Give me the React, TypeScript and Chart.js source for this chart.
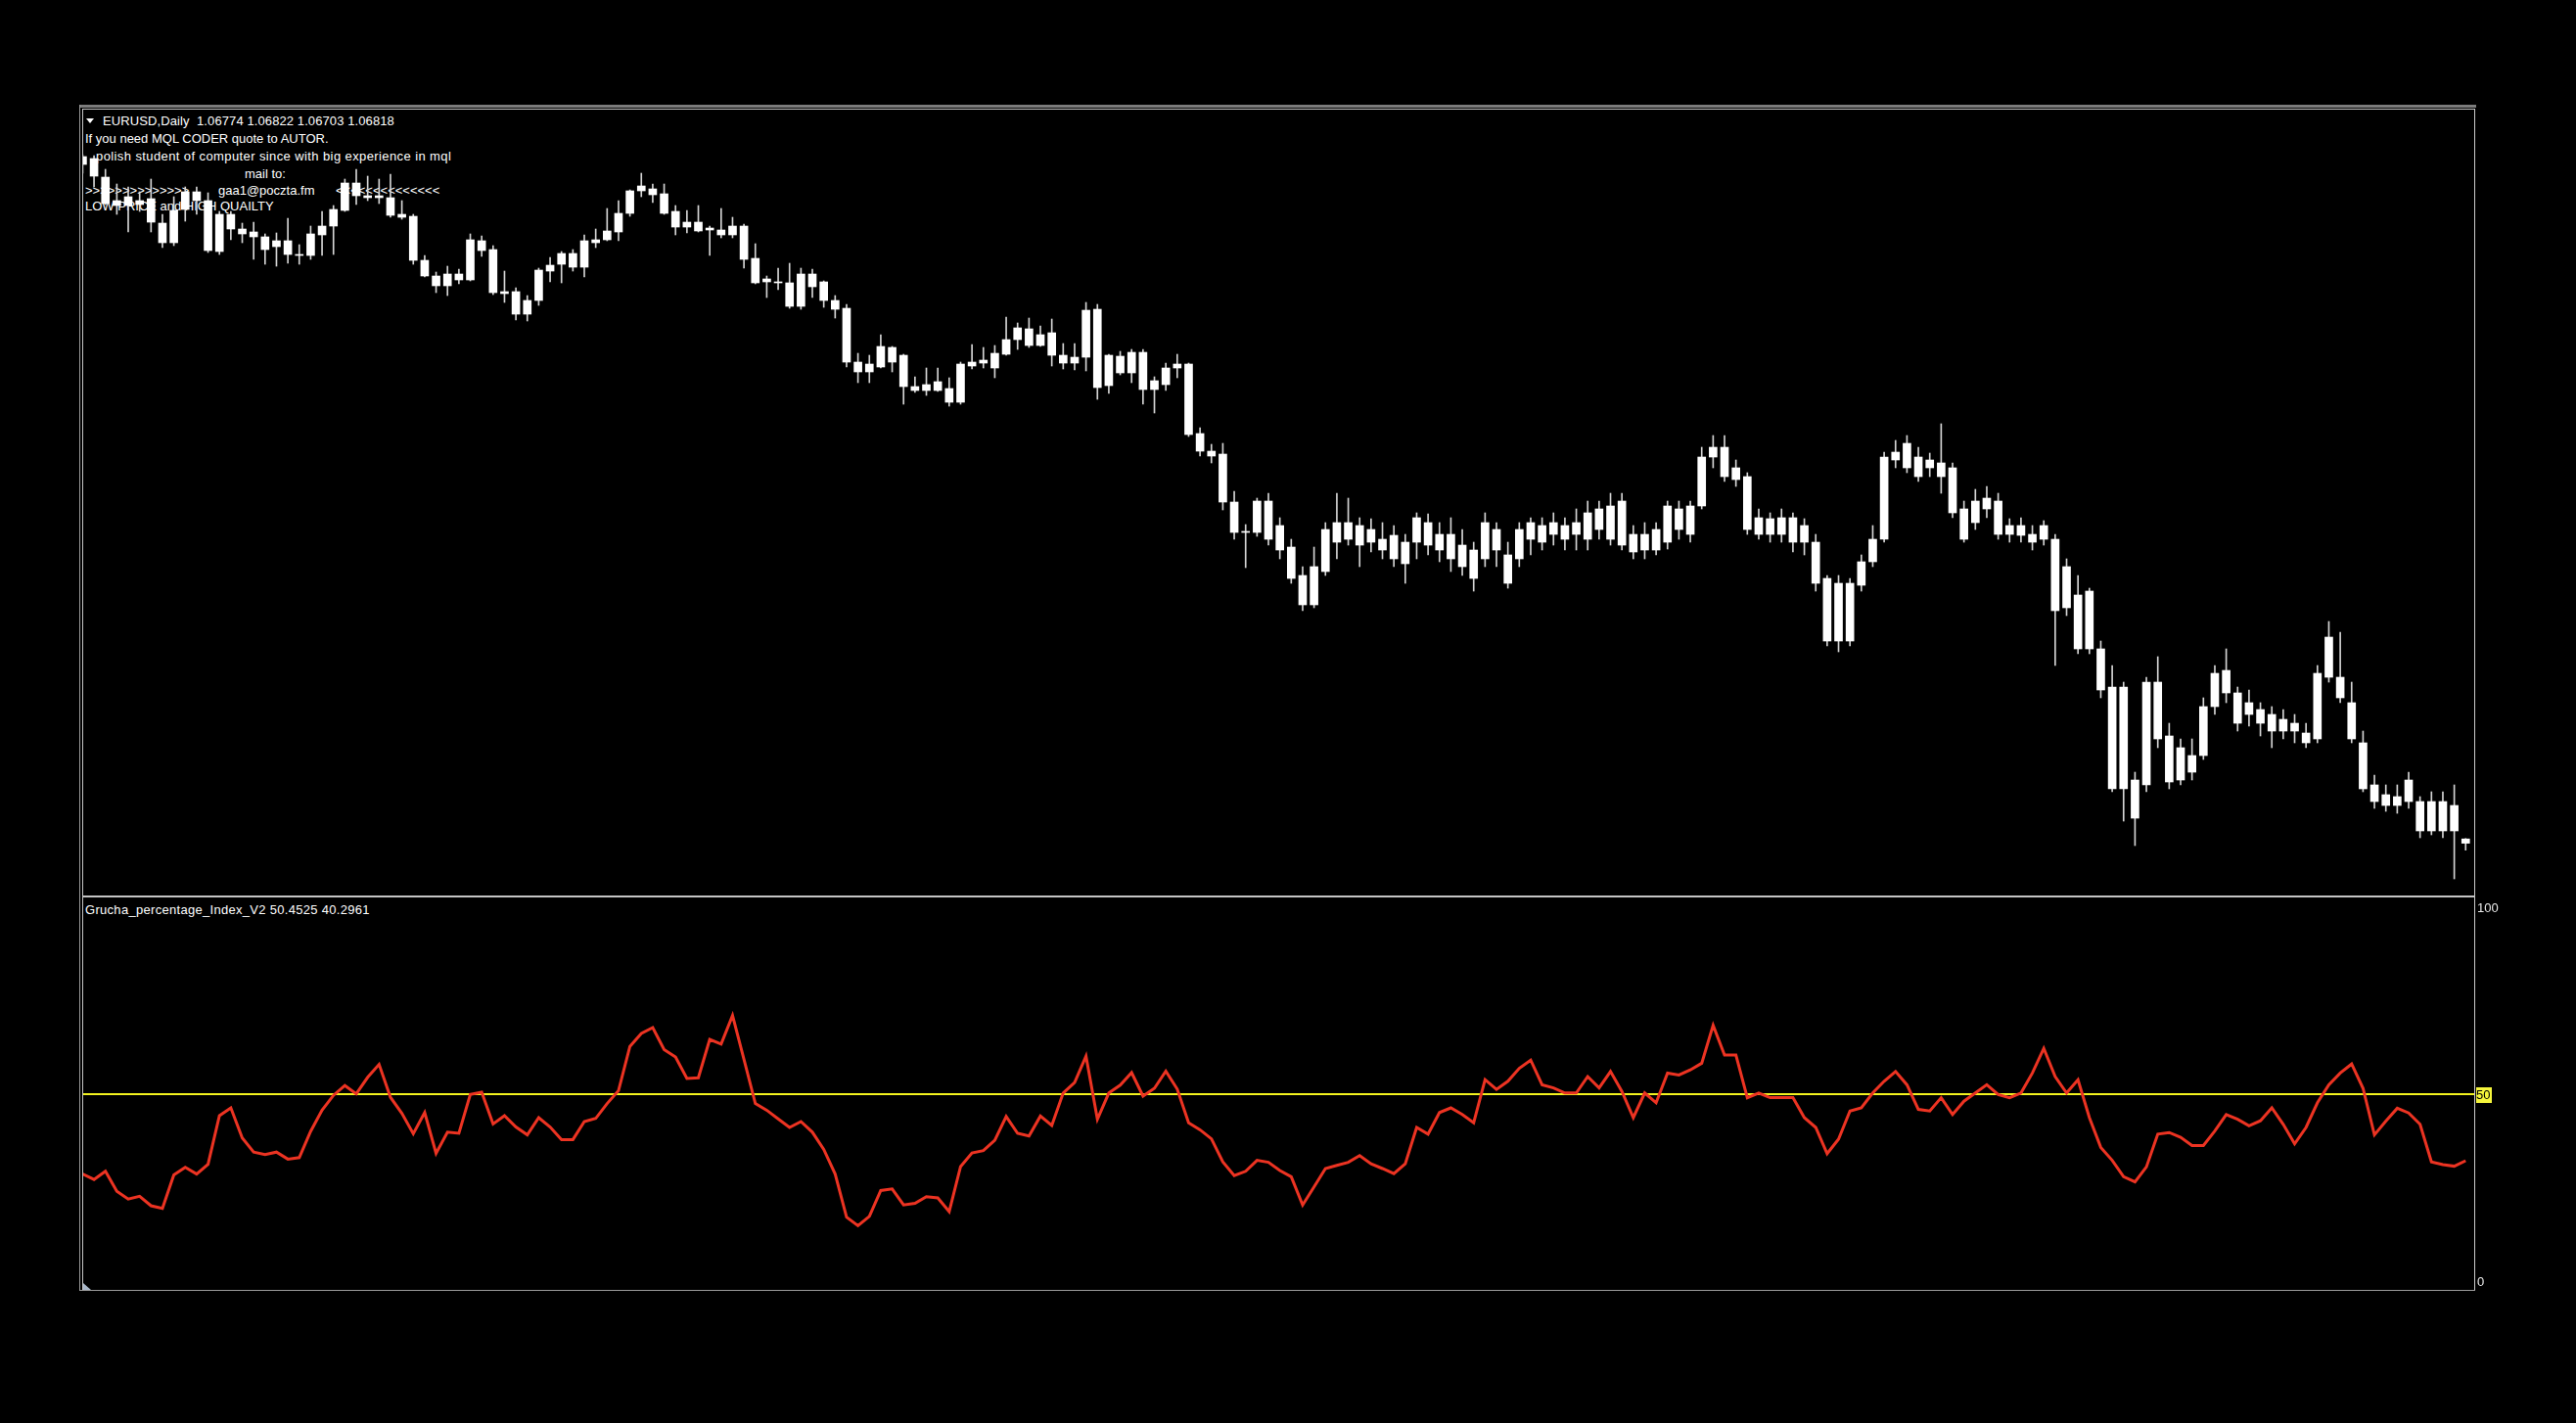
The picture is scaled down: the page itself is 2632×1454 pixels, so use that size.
import React, { useEffect, useRef } from 'react';
import { Chart, registerables } from 'chart.js';

Chart.register(...registerables);

// ---- EURUSD, Daily candles (oldest -> newest) ----
const OPEN = [
  1.1379, 1.1377, 1.1358, 1.1334, 1.1329, 1.1334, 1.1336, 1.1311, 1.1291, 1.1325,
  1.1334, 1.1334, 1.1320, 1.1305, 1.1305, 1.1302, 1.1297, 1.1287, 1.1293, 1.1279,
  1.1278, 1.1299, 1.1308, 1.1324, 1.1339, 1.1339, 1.1337, 1.1337, 1.1320, 1.1318,
  1.1273, 1.1257, 1.1247, 1.1253, 1.1253, 1.1293, 1.1284, 1.1241, 1.1241, 1.1218,
  1.1232, 1.1262, 1.1269, 1.1280, 1.1266, 1.1291, 1.1294, 1.1302, 1.1321, 1.1344,
  1.1346, 1.1341, 1.1323, 1.1312, 1.1312, 1.1304, 1.1304, 1.1299, 1.1308, 1.1275,
  1.1254, 1.1251, 1.1250, 1.1226, 1.1259, 1.1251, 1.1232, 1.1224, 1.1169, 1.1159,
  1.1164, 1.1184, 1.1176, 1.1144, 1.1140, 1.1140, 1.1142, 1.1128, 1.1165, 1.1168,
  1.1178, 1.1177, 1.1192, 1.1203, 1.1186, 1.1199, 1.1176, 1.1168, 1.1174, 1.1223,
  1.1145, 1.1175, 1.1158, 1.1179, 1.1150, 1.1146, 1.1163, 1.1167, 1.1096, 1.1078,
  1.1075, 1.1026, 1.0996, 1.0995, 1.1027, 1.1002, 1.0980, 1.0951, 1.0921, 1.0955,
  1.0985, 1.1005, 1.0982, 1.0998, 1.0988, 1.0992, 1.0963, 1.0985, 1.1005, 1.0993,
  1.0993, 1.0982, 1.0977, 1.0968, 1.0998, 1.0972, 1.0968, 1.0988, 1.1002, 1.0993,
  1.1002, 1.0993, 1.0988, 1.0998, 1.1022, 1.0982, 1.0993, 1.0977, 1.0998, 1.0985,
  1.1019, 1.0993, 1.1022, 1.1072, 1.1082, 1.1061, 1.1052, 1.1010, 1.0993, 1.1010,
  1.1010, 1.0985, 1.0985, 1.0948, 1.0884, 1.0943, 1.0941, 1.0965, 1.0988, 1.1069,
  1.1086, 1.1052, 1.1069, 1.1066, 1.1061, 1.1019, 1.1005, 1.1019, 1.1027, 1.0993,
  1.1002, 1.0993, 1.0988, 1.0988, 1.0918, 1.0931, 1.0876, 1.0876, 1.0837, 1.0733,
  1.0742, 1.0737, 1.0842, 1.0787, 1.0742, 1.0767, 1.0767, 1.0817, 1.0854, 1.0831,
  1.0809, 1.0814, 1.0809, 1.0792, 1.0800, 1.0790, 1.0784, 1.0847, 1.0847, 1.0821,
  1.0780, 1.0737, 1.0727, 1.0716, 1.0720, 1.0720, 1.0690, 1.0720, 1.0716, 1.06774,
];
const HIGH = [
  1.1381, 1.1380, 1.1366, 1.1351, 1.1348, 1.1343, 1.1356, 1.1320, 1.1338, 1.1348,
  1.1348, 1.1342, 1.1323, 1.1323, 1.1311, 1.1312, 1.1300, 1.1301, 1.1316, 1.1289,
  1.1308, 1.1323, 1.1329, 1.1356, 1.1366, 1.1359, 1.1356, 1.1361, 1.1334, 1.1320,
  1.1278, 1.1261, 1.1267, 1.1264, 1.1300, 1.1298, 1.1288, 1.1262, 1.1245, 1.1237,
  1.1265, 1.1276, 1.1282, 1.1284, 1.1299, 1.1305, 1.1326, 1.1334, 1.1345, 1.1362,
  1.1351, 1.1351, 1.1329, 1.1324, 1.1329, 1.1308, 1.1326, 1.1317, 1.1310, 1.1290,
  1.1257, 1.1265, 1.1270, 1.1265, 1.1264, 1.1252, 1.1237, 1.1228, 1.1178, 1.1176,
  1.1197, 1.1185, 1.1177, 1.1154, 1.1163, 1.1163, 1.1153, 1.1169, 1.1187, 1.1184,
  1.1186, 1.1215, 1.1209, 1.1214, 1.1206, 1.1213, 1.1188, 1.1188, 1.1230, 1.1228,
  1.1177, 1.1180, 1.1182, 1.1182, 1.1154, 1.1168, 1.1177, 1.1168, 1.1102, 1.1085,
  1.1086, 1.1037, 1.1003, 1.1030, 1.1035, 1.1010, 1.0988, 1.0960, 1.0980, 1.1005,
  1.1035, 1.1030, 1.1010, 1.1009, 1.1005, 1.1002, 1.0993, 1.1015, 1.1014, 1.1005,
  1.1010, 1.0998, 1.0985, 1.1015, 1.1005, 1.0985, 1.1005, 1.1010, 1.1010, 1.1015,
  1.1010, 1.1019, 1.1027, 1.1027, 1.1035, 1.1035, 1.1002, 1.1005, 1.1005, 1.1027,
  1.1027, 1.1027, 1.1082, 1.1094, 1.1094, 1.1069, 1.1056, 1.1019, 1.1015, 1.1019,
  1.1015, 1.1009, 1.0993, 1.0951, 1.0951, 1.0948, 1.0972, 1.1002, 1.1077, 1.1089,
  1.1094, 1.1082, 1.1076, 1.1106, 1.1066, 1.1027, 1.1039, 1.1042, 1.1035, 1.1009,
  1.1010, 1.1002, 1.1007, 1.0993, 1.0968, 1.0951, 1.0938, 1.0884, 1.0859, 1.0842,
  1.0750, 1.0847, 1.0868, 1.0800, 1.0784, 1.0784, 1.0826, 1.0859, 1.0876, 1.0837,
  1.0834, 1.0821, 1.0817, 1.0814, 1.0809, 1.0800, 1.0859, 1.0904, 1.0893, 1.0842,
  1.0792, 1.0747, 1.0737, 1.0737, 1.0750, 1.0725, 1.0730, 1.0730, 1.0737, 1.06822,
];
const LOW = [
  1.1362, 1.1348, 1.1330, 1.1320, 1.1302, 1.1323, 1.1302, 1.1286, 1.1288, 1.1313,
  1.1320, 1.1281, 1.1279, 1.1294, 1.1291, 1.1274, 1.1269, 1.1267, 1.1270, 1.1269,
  1.1274, 1.1278, 1.1279, 1.1323, 1.1330, 1.1334, 1.1331, 1.1317, 1.1315, 1.1269,
  1.1256, 1.1240, 1.1237, 1.1249, 1.1252, 1.1277, 1.1238, 1.1230, 1.1212, 1.1211,
  1.1227, 1.1251, 1.1250, 1.1262, 1.1256, 1.1286, 1.1293, 1.1293, 1.1318, 1.1338,
  1.1332, 1.1320, 1.1299, 1.1301, 1.1302, 1.1278, 1.1296, 1.1296, 1.1265, 1.1249,
  1.1235, 1.1243, 1.1224, 1.1223, 1.1235, 1.1225, 1.1214, 1.1164, 1.1148, 1.1148,
  1.1163, 1.1159, 1.1126, 1.1138, 1.1135, 1.1139, 1.1124, 1.1126, 1.1162, 1.1163,
  1.1153, 1.1176, 1.1182, 1.1184, 1.1185, 1.1165, 1.1162, 1.1161, 1.1160, 1.1131,
  1.1137, 1.1156, 1.1148, 1.1126, 1.1117, 1.1140, 1.1153, 1.1093, 1.1073, 1.1066,
  1.1018, 1.0988, 1.0959, 1.0991, 1.0982, 1.0968, 1.0943, 1.0915, 1.0918, 1.0951,
  1.0968, 1.0982, 1.0960, 1.0975, 1.0968, 1.0960, 1.0943, 1.0968, 1.0972, 1.0965,
  1.0955, 1.0951, 1.0935, 1.0960, 1.0960, 1.0938, 1.0960, 1.0972, 1.0977, 1.0982,
  1.0977, 1.0977, 1.0977, 1.0988, 1.0982, 1.0977, 1.0968, 1.0968, 1.0972, 1.0978,
  1.0988, 1.0985, 1.1019, 1.1061, 1.1047, 1.1042, 1.0993, 1.0988, 1.0985, 1.0985,
  1.0975, 1.0972, 1.0935, 1.0879, 1.0873, 1.0879, 1.0935, 1.0960, 1.0985, 1.1061,
  1.1056, 1.1047, 1.1052, 1.1035, 1.1010, 1.0985, 1.0998, 1.1010, 1.0988, 1.0985,
  1.0985, 1.0977, 1.0982, 1.0859, 1.0910, 1.0871, 1.0871, 1.0826, 1.0730, 1.0700,
  1.0675, 1.0730, 1.0775, 1.0733, 1.0737, 1.0742, 1.0763, 1.0809, 1.0821, 1.0792,
  1.0797, 1.0787, 1.0775, 1.0784, 1.0780, 1.0775, 1.0780, 1.0842, 1.0821, 1.0780,
  1.0730, 1.0713, 1.0710, 1.0708, 1.0713, 1.0683, 1.0686, 1.0683, 1.0641, 1.06703,
];
const CLOSE = [
  1.1371, 1.1359, 1.1331, 1.1329, 1.1338, 1.1330, 1.1312, 1.1291, 1.1324, 1.1343,
  1.1343, 1.1283, 1.1282, 1.1320, 1.1300, 1.1297, 1.1284, 1.1293, 1.1279, 1.1278,
  1.1300, 1.1308, 1.1325, 1.1352, 1.1352, 1.1337, 1.1339, 1.1319, 1.1317, 1.1273,
  1.1257, 1.1247, 1.1259, 1.1259, 1.1294, 1.1283, 1.1240, 1.1239, 1.1218, 1.1232,
  1.1263, 1.1268, 1.1280, 1.1266, 1.1293, 1.1294, 1.1303, 1.1321, 1.1344, 1.1349,
  1.1340, 1.1321, 1.1307, 1.1307, 1.1303, 1.1306, 1.1299, 1.1308, 1.1274, 1.1250,
  1.1251, 1.1250, 1.1226, 1.1259, 1.1246, 1.1232, 1.1223, 1.1169, 1.1159, 1.1167,
  1.1185, 1.1169, 1.1144, 1.1140, 1.1146, 1.1149, 1.1128, 1.1167, 1.1169, 1.1171,
  1.1163, 1.1192, 1.1204, 1.1186, 1.1197, 1.1176, 1.1168, 1.1174, 1.1222, 1.1143,
  1.1176, 1.1158, 1.1179, 1.1141, 1.1141, 1.1163, 1.1167, 1.1095, 1.1078, 1.1073,
  1.1026, 1.0995, 1.0995, 1.1027, 1.0988, 1.0977, 1.0948, 1.0921, 1.0960, 1.0998,
  1.1005, 1.0988, 1.1002, 1.0985, 1.0977, 1.0968, 1.0985, 1.1010, 1.0982, 1.0977,
  1.0968, 1.0960, 1.0948, 1.1005, 1.0977, 1.0943, 1.0998, 1.1005, 1.0985, 1.1005,
  1.0988, 1.1005, 1.1015, 1.1019, 1.0988, 1.1027, 1.0975, 1.0993, 1.0977, 1.1022,
  1.0998, 1.1022, 1.1072, 1.1082, 1.1052, 1.1049, 1.0998, 1.0993, 1.1009, 1.0993,
  1.0985, 1.1002, 1.0943, 1.0884, 1.0943, 1.0884, 1.0965, 1.0988, 1.1072, 1.1077,
  1.1061, 1.1072, 1.1061, 1.1052, 1.1015, 1.0988, 1.1027, 1.1030, 1.0993, 1.1002,
  1.0992, 1.0985, 1.1002, 1.0915, 1.0960, 1.0876, 1.0935, 1.0834, 1.0733, 1.0837,
  1.0703, 1.0842, 1.0784, 1.0740, 1.0775, 1.0750, 1.0817, 1.0851, 1.0831, 1.0800,
  1.0821, 1.0800, 1.0792, 1.0804, 1.0792, 1.0780, 1.0851, 1.0888, 1.0826, 1.0784,
  1.0733, 1.0720, 1.0716, 1.0725, 1.0742, 1.0690, 1.0720, 1.0690, 1.0690, 1.06818,
];

// ---- Grucha_percentage_Index_V2 (0..100) ----
const GRUCHA = [
  29.6, 28.2, 30.3, 25.2, 23.2, 23.9, 21.5, 20.8, 29.4, 31.3,
  29.6, 32.1, 44.5, 46.5, 38.8, 35.2, 34.6, 35.2, 33.4, 33.8,
  40.5, 45.9, 49.7, 52.2, 50.1, 54.3, 57.6, 49.2, 45.1, 39.9,
  45.3, 34.9, 40.3, 40.0, 49.9, 50.5, 42.4, 44.5, 41.6, 39.6,
  44.0, 41.6, 38.4, 38.4, 43.0, 43.8, 47.6, 50.9, 62.2, 65.5,
  67.0, 61.4, 59.5, 54.0, 54.2, 64.0, 62.8, 70.1, 58.9, 47.6,
  45.9, 43.7, 41.5, 43.0, 40.3, 35.9, 29.6, 18.6, 16.4, 18.8,
  25.4, 25.8, 21.7, 22.1, 23.8, 23.5, 20.0, 31.5, 35.0, 35.6,
  38.2, 44.3, 40.0, 39.3, 44.4, 42.0, 50.3, 53.0, 59.7, 43.6,
  50.3, 52.3, 55.5, 49.5, 51.5, 55.9, 51.3, 42.7, 40.9, 38.6,
  32.7, 29.2, 30.3, 33.1, 32.6, 30.5, 28.9, 21.7, 26.3, 31.0,
  31.8, 32.6, 34.3, 32.2, 31.0, 29.7, 32.2, 41.5, 39.8, 45.3,
  46.5, 44.8, 42.7, 53.7, 51.2, 53.3, 56.6, 58.7, 52.4, 51.6,
  50.3, 50.3, 54.5, 51.6, 55.8, 50.7, 44.0, 50.3, 47.8, 55.4,
  54.9, 56.2, 57.9, 67.6, 60.0, 60.0, 49.1, 50.3, 49.1, 49.1,
  49.1, 44.0, 41.5, 34.8, 38.5, 45.7, 46.5, 50.3, 53.3, 55.8,
  52.4, 46.1, 45.7, 49.1, 44.8, 48.2, 50.3, 52.4, 49.9, 49.1,
  50.3, 55.4, 61.7, 54.5, 50.3, 53.7, 44.0, 36.4, 33.1, 28.9,
  27.6, 31.4, 39.8, 40.2, 39.0, 36.9, 36.9, 40.6, 44.8, 43.6,
  41.9, 43.2, 46.5, 42.3, 37.3, 41.5, 47.8, 52.4, 55.4, 57.7,
  51.5, 39.6, 43.1, 46.4, 45.2, 42.3, 32.7, 32.0, 31.6, 33.0,
];

const LEVELS = [50];
const AXIS_TOP_LABEL = 100;
const AXIS_BOTTOM_LABEL = 0;

const HEADER = 'EURUSD,Daily  1.06774 1.06822 1.06703 1.06818';
const COMMENT_LINES = [
  'If you need MQL CODER quote to AUTOR.',
  'polish student of computer since with big experience in mql',
  'mail to:',
  '>>>>>>>>>>>>>>',
  'gaa1@poczta.fm',
  '<<<<<<<<<<<<<<',
  'LOW PRICE and HIGH QUAILTY',
];
const INDICATOR_TITLE = 'Grucha_percentage_Index_V2 50.4525 40.2961';

// layout (pixels)
const PLOT_LEFT = 85;
const PLOT_RIGHT = 2528;
const MAIN_TOP = 112;
const MAIN_BOTTOM = 915;
const SUB_TOP = 917;
const SUB_BOTTOM = 1318;
const X_MIN = 0.05;
const X_MAX = 209.75;
const PRICE_MIN = 1.0624;
const PRICE_MAX = 1.1427;

const FONT = '13px "Liberation Sans", Arial, sans-serif';

const indicatorDecor = {
  id: 'indicatorDecor',
  beforeDatasetsDraw(chart: any) {
    const { ctx, chartArea } = chart;
    const ys = chart.scales.y;
    ctx.save();
    ctx.strokeStyle = '#f2f21e';
    ctx.lineWidth = 2;
    LEVELS.forEach((v) => {
      const y = ys.getPixelForValue(v);
      ctx.beginPath();
      ctx.moveTo(chartArea.left, y);
      ctx.lineTo(chartArea.right, y);
      ctx.stroke();
    });
    ctx.restore();
  },
  afterDraw(chart: any) {
    const { ctx, chartArea } = chart;
    const ys = chart.scales.y;
    const x = chartArea.right + 3;
    ctx.save();
    ctx.font = FONT;
    ctx.textAlign = 'left';
    ctx.fillStyle = '#e8e8e8';
    ctx.textBaseline = 'top';
    ctx.fillText(String(AXIS_TOP_LABEL), x, ys.getPixelForValue(AXIS_TOP_LABEL) + 4);
    ctx.textBaseline = 'bottom';
    ctx.fillText(String(AXIS_BOTTOM_LABEL), x, ys.getPixelForValue(AXIS_BOTTOM_LABEL) - 1);
    LEVELS.forEach((v) => {
      const y = ys.getPixelForValue(v);
      ctx.fillStyle = '#f5f53c';
      ctx.fillRect(chartArea.right + 2, y - 7, 16, 16);
      ctx.fillStyle = '#000000';
      ctx.textBaseline = 'middle';
      ctx.fillText(String(v), x - 1, y + 1.5);
    });
    ctx.restore();
  },
};

function Line(p: { l: number; t: number; w: number; h: number; c: string }) {
  return (
    <div
      style={{
        position: 'absolute',
        left: p.l,
        top: p.t,
        width: p.w,
        height: p.h,
        background: p.c,
        zIndex: 3,
      }}
    />
  );
}

function Txt(p: { l: number; t: number; s: string; ls?: number }) {
  return (
    <div
      style={{
        position: 'absolute',
        left: p.l,
        top: p.t,
        font: FONT,
        lineHeight: '16px',
        letterSpacing: (p.ls || 0) + 'px',
        color: '#ffffff',
        whiteSpace: 'pre',
        zIndex: 1,
      }}
    >
      {p.s}
    </div>
  );
}

export default function App() {
  const mainRef = useRef<HTMLCanvasElement>(null);
  const subRef = useRef<HTMLCanvasElement>(null);

  useEffect(() => {
    document.body.style.margin = '0';
    document.body.style.background = '#000';

    const wicks = HIGH.map((h, i) => ({ x: i, y: [LOW[i], h] }));
    const bodies = OPEN.map((o, i) => ({
      x: i,
      y: [Math.min(o, CLOSE[i]), Math.max(o, CLOSE[i])],
    }));

    const main = new Chart(mainRef.current as HTMLCanvasElement, {
      type: 'bar',
      data: {
        datasets: [
          {
            data: bodies as any,
            backgroundColor: '#ffffff',
            borderWidth: 0,
            barThickness: 8,
            grouped: false,
            minBarLength: 1,
            order: 1,
          } as any,
          {
            data: wicks as any,
            backgroundColor: '#d4d4d4',
            borderWidth: 0,
            barThickness: 1,
            grouped: false,
            order: 2,
          } as any,
        ],
      },
      options: {
        animation: false,
        responsive: false,
        devicePixelRatio: 1,
        events: [],
        layout: { padding: 0 },
        plugins: { legend: { display: false }, tooltip: { enabled: false } },
        scales: {
          x: { type: 'linear', min: X_MIN, max: X_MAX, display: false, offset: false, grid: { offset: false } },
          y: { type: 'linear', min: PRICE_MIN, max: PRICE_MAX, display: false },
        },
      } as any,
    });

    const sub = new Chart(subRef.current as HTMLCanvasElement, {
      type: 'line',
      data: {
        datasets: [
          {
            data: GRUCHA.map((v, i) => ({ x: i, y: v })),
            borderColor: '#ec3322',
            borderWidth: 3,
            pointRadius: 0,
            tension: 0,
            fill: false,
          },
        ],
      },
      options: {
        animation: false,
        responsive: false,
        devicePixelRatio: 1,
        events: [],
        layout: { padding: { left: 0, right: 60, top: 1, bottom: 1 } },
        plugins: { legend: { display: false }, tooltip: { enabled: false } },
        scales: {
          x: { type: 'linear', min: X_MIN, max: X_MAX, display: false },
          y: { type: 'linear', min: 0, max: 100, display: false },
        },
      } as any,
      plugins: [indicatorDecor],
    });

    return () => {
      main.destroy();
      sub.destroy();
    };
  }, []);

  const mainW = PLOT_RIGHT - PLOT_LEFT;
  const mainH = MAIN_BOTTOM - MAIN_TOP;
  const subW = PLOT_RIGHT - PLOT_LEFT + 60;
  const subH = SUB_BOTTOM - SUB_TOP + 1;

  return (
    <div
      style={{
        position: 'absolute',
        left: 0,
        top: 0,
        width: 2632,
        height: 1454,
        background: '#000',
        overflow: 'hidden',
      }}
    >
      {/* comment texts (drawn beneath the candles) */}
      <div
        style={{
          position: 'absolute',
          left: 88,
          top: 121,
          width: 0,
          height: 0,
          borderLeft: '4px solid transparent',
          borderRight: '4px solid transparent',
          borderTop: '5px solid #ffffff',
          zIndex: 1,
        }}
      />
      <Txt l={105} t={116} s={HEADER} ls={0.1} />
      <Txt l={87} t={134} s={COMMENT_LINES[0]} />
      <Txt l={98} t={152} s={COMMENT_LINES[1]} ls={0.4} />
      <Txt l={250} t={170} s={COMMENT_LINES[2]} />
      <Txt l={87} t={187} s={COMMENT_LINES[3]} />
      <Txt l={223} t={187} s={COMMENT_LINES[4]} />
      <Txt l={343} t={187} s={COMMENT_LINES[5]} />
      <Txt l={87} t={203} s={COMMENT_LINES[6]} />
      <Txt l={87} t={922} s={INDICATOR_TITLE} ls={0.3} />

      <canvas
        ref={mainRef}
        width={mainW}
        height={mainH}
        style={{ position: 'absolute', left: PLOT_LEFT, top: MAIN_TOP, width: mainW, height: mainH, zIndex: 2 }}
      />
      <canvas
        ref={subRef}
        width={subW}
        height={subH}
        style={{ position: 'absolute', left: PLOT_LEFT, top: SUB_TOP, width: subW, height: subH, zIndex: 2 }}
      />

      {/* window frame */}
      <Line l={81} t={107} w={2449} h={3} c="#7c7c7c" />
      <Line l={84} t={111} w={2445} h={1} c="#c4c4c4" />
      <Line l={81} t={107} w={1} h={1212} c="#9a9a9a" />
      <Line l={84} t={111} w={1} h={1208} c="#c4c4c4" />
      <Line l={2528} t={111} w={1} h={1208} c="#cccccc" />
      <Line l={84} t={915} w={2445} h={2} c="#c4c4c4" />
      <Line l={81} t={1318} w={2448} h={1} c="#9a9a9a" />
      <div
        style={{
          position: 'absolute',
          left: 85,
          top: 1311,
          width: 0,
          height: 0,
          borderBottom: '7px solid #a9b8c9',
          borderRight: '8px solid transparent',
          zIndex: 3,
        }}
      />
    </div>
  );
}
